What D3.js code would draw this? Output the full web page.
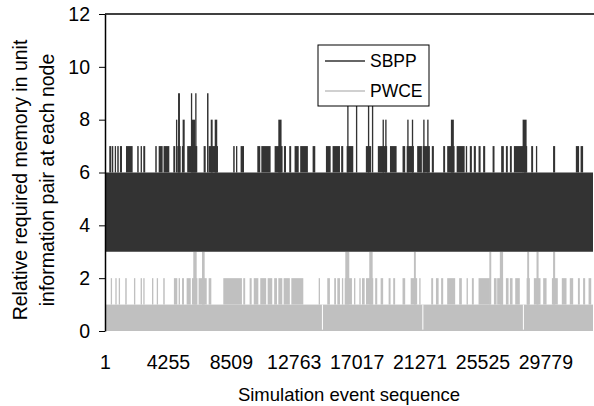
<!DOCTYPE html>
<html>
<head>
<meta charset="utf-8">
<script src="https://cdn.jsdelivr.net/npm/d3@7"></script>
<style>
  body { margin: 0; background: #fff; }
  svg { display: block; font-family: "Liberation Sans", Arial, sans-serif; }
</style>
</head>
<body>
<div class="chart"></div>
<script>
// event count on the x axis, tick labels as Excel printed them
const nEvents = 33000;
const xTickLabels = [1, 4255, 8509, 12763, 17017, 21271, 25525, 29779];
const yTicks = [0, 2, 4, 6, 8, 10, 12];

// both series oscillate inside a base band, with occasional runs above it
const sbppBase = [3, 6];
const pwceBase = [0, 1];

// [startEvent, endEvent, value]
const sbppRuns = [
  [290, 430, 7], [470, 560, 7], [660, 740, 7], [830, 930, 7], [1010, 1150, 7],
  [1420, 1870, 7], [2180, 2280, 7], [2410, 2500, 7], [2590, 2720, 7], [3400, 3500, 7],
  [3630, 3900, 7], [3960, 4350, 7], [4620, 4750, 7], [4890, 5120, 7], [5200, 5290, 7],
  [5560, 6240, 7], [6670, 6810, 7], [7010, 7640, 7], [8670, 8770, 7], [8860, 8940, 7],
  [9170, 9400, 7], [10300, 10500, 7], [10570, 11200, 7], [11470, 12010, 7], [12100, 12240, 7],
  [12460, 12590, 7], [12820, 13100, 7], [13200, 13720, 7], [14040, 14220, 7], [14940, 15260, 7],
  [15390, 15890, 7], [15970, 16110, 7], [16340, 16790, 7], [17640, 18000, 7], [18450, 19080, 7],
  [19270, 19720, 7], [20120, 20300, 7], [20400, 20890, 7], [21110, 21430, 7], [21480, 21970, 7],
  [22100, 22240, 7], [22870, 23000, 7], [23140, 23640, 7], [23780, 24320, 7], [24400, 24490, 7],
  [24670, 24810, 7], [24940, 25080, 7], [25260, 25400, 7], [25570, 25710, 7], [26210, 26340, 7],
  [26790, 26970, 7], [27110, 27240, 7], [27380, 27510, 7], [27650, 28280, 7], [28320, 28550, 7],
  [28820, 28950, 7], [29140, 29220, 7], [30300, 30440, 7], [31840, 32060, 7], [32160, 32330, 7],
  [4800, 4890, 8], [5250, 5390, 8], [5880, 6100, 8], [7150, 7280, 8], [7420, 7590, 8],
  [11720, 11940, 8], [18770, 18860, 8], [18950, 19040, 8], [20440, 20530, 8], [20750, 20840, 8],
  [21520, 21610, 8], [21790, 21880, 8], [23390, 23590, 8], [28240, 28510, 8],
  [4940, 5070, 9], [5810, 5880, 9], [6100, 6190, 9], [6900, 7000, 9],
  [16380, 16470, 9], [16970, 17060, 9], [17780, 17870, 9], [18050, 18140, 9]
];

const pwceRuns = [
  [390, 470, 2], [700, 790, 2], [930, 1010, 2], [1370, 1470, 2], [1960, 2050, 2],
  [2410, 2500, 2], [2590, 2680, 2], [3180, 3270, 2], [3500, 3580, 2], [3940, 4040, 2],
  [4660, 4890, 2], [4980, 5070, 2], [5210, 5340, 2], [5520, 5800, 2], [5880, 6250, 2],
  [6330, 6880, 2], [7010, 7190, 2], [8000, 9260, 2], [9350, 9480, 2], [9780, 9920, 2],
  [10060, 10370, 2], [10500, 10900, 2], [11000, 11310, 2], [11440, 11630, 2], [11720, 11990, 2],
  [12080, 12500, 2], [12600, 13410, 2], [14450, 14540, 2], [15030, 15210, 2], [15500, 15620, 2],
  [15710, 15890, 2], [16020, 16110, 2], [16210, 16700, 2], [16840, 16930, 2], [17200, 17290, 2],
  [17380, 17560, 2], [17650, 18140, 2], [18270, 18410, 2], [18640, 18810, 2], [19180, 19310, 2],
  [19490, 19620, 2], [20120, 20300, 2], [20670, 21110, 2], [21250, 21340, 2], [22060, 22190, 2],
  [22380, 22560, 2], [22730, 22870, 2], [23140, 23680, 2], [23950, 24130, 2], [24450, 24540, 2],
  [24810, 24940, 2], [25260, 26030, 2], [26300, 26480, 2], [26520, 26920, 2], [27110, 27290, 2],
  [27380, 27560, 2], [27740, 28050, 2], [28510, 28730, 2], [29000, 29450, 2], [29630, 29860, 2],
  [30220, 30620, 2], [30890, 31210, 2], [31430, 31660, 2], [31980, 32110, 2], [32330, 32470, 2],
  [32700, 32880, 2],
  [5970, 6200, 3], [6560, 6740, 3], [16250, 16520, 3], [17870, 18100, 3], [20890, 21020, 3],
  [25990, 26120, 3], [26700, 26920, 3], [28550, 28680, 3], [29180, 29320, 3], [30300, 30440, 3]
];

// single events where PWCE drops to 0
const pwceZeros = [14670, 21460, 28260];

const width = 594;
const height = 406;
const margin = { top: 14, right: 1, bottom: 75, left: 105 };
const sbppColor = '#333333';
const pwceColor = '#c0c0c0';

const x = d3.scaleLinear()
  .domain([1, nEvents])
  .range([margin.left, width - margin.right]);

const y = d3.scaleLinear()
  .domain([0, 12])
  .range([height - margin.bottom, margin.top]);

const svg = d3.select('.chart')
  .append('svg')
  .attr('width', width)
  .attr('height', height);

function drawSeries(base, runs, color) {
  const g = svg.append('g');
  g.append('rect')
    .attr('x', x(1))
    .attr('width', x(nEvents) - x(1))
    .attr('y', y(base[1]))
    .attr('height', y(base[0]) - y(base[1]))
    .attr('fill', color);

  g.selectAll('rect.run')
    .data(runs)
    .join('rect')
    .attr('class', 'run')
    .attr('x', d => x(d[0]))
    .attr('width', d => Math.max(1.3, x(d[1]) - x(d[0])))
    .attr('y', d => y(d[2]))
    .attr('height', d => y(base[1]) - y(d[2]))
    .attr('fill', color);
}

drawSeries(pwceBase, pwceRuns, pwceColor);
drawSeries(sbppBase, sbppRuns, sbppColor);

svg.append('g')
  .selectAll('rect')
  .data(pwceZeros)
  .join('rect')
  .attr('x', d => x(d))
  .attr('width', 1)
  .attr('y', y(1))
  .attr('height', y(0.05) - y(1))
  .attr('fill', '#fff');

// y axis
const yAxis = svg.append('g')
  .attr('transform', `translate(${margin.left},0)`)
  .call(d3.axisLeft(y).tickValues(yTicks).tickSize(6).tickSizeOuter(0).tickPadding(9));
yAxis.select('.domain').attr('stroke', '#000').attr('stroke-width', 1.5);
yAxis.selectAll('.tick line').attr('stroke', '#000');
yAxis.selectAll('text').attr('font-size', '19.5px').attr('fill', '#000');

// x axis: labels only
const xAxis = svg.append('g')
  .attr('transform', `translate(0,${height - margin.bottom})`)
  .call(d3.axisBottom(x).tickValues(xTickLabels).tickSize(0).tickPadding(24).tickFormat(d3.format('d')));
xAxis.select('.domain').remove();
xAxis.selectAll('text').attr('font-size', '19.5px').attr('fill', '#000');

// top border
svg.append('line')
  .attr('x1', margin.left).attr('x2', width)
  .attr('y1', margin.top).attr('y2', margin.top)
  .attr('stroke', '#000').attr('stroke-width', 1.5);

// titles
svg.append('text')
  .attr('x', 349)
  .attr('y', 401)
  .attr('text-anchor', 'middle')
  .attr('font-size', '18.5px')
  .text('Simulation event sequence');

const yTitle = svg.append('text')
  .attr('transform', 'translate(0,180) rotate(-90)')
  .attr('text-anchor', 'middle')
  .attr('font-size', '19.5px');
yTitle.append('tspan').attr('x', 0).attr('y', 27).text('Relative required memory in unit');
yTitle.append('tspan').attr('x', 0).attr('y', 54).text('information pair at each node');

// legend
const legend = svg.append('g');
legend.append('rect')
  .attr('x', 318).attr('y', 45)
  .attr('width', 111).attr('height', 61)
  .attr('fill', '#fff').attr('stroke', '#000');

const legendItems = [
  { label: 'SBPP', color: sbppColor },
  { label: 'PWCE', color: pwceColor }
];
legend.selectAll('line')
  .data(legendItems)
  .join('line')
  .attr('x1', 325).attr('x2', 365)
  .attr('y1', (d, i) => 61 + i * 30).attr('y2', (d, i) => 61 + i * 30)
  .attr('stroke', d => d.color).attr('stroke-width', 1.5);
legend.selectAll('text')
  .data(legendItems)
  .join('text')
  .attr('x', 370)
  .attr('y', (d, i) => 67 + i * 30)
  .attr('font-size', '17.5px')
  .text(d => d.label);
</script>
</body>
</html>
